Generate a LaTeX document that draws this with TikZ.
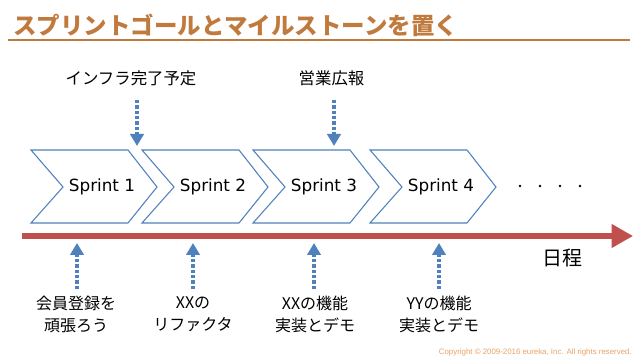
\documentclass[tikz,border=0pt]{standalone}
\usepackage{fontspec}
\setmainfont{Noto Sans CJK JP}
\newfontfamily\jpfont{Noto Sans CJK JP}
\newfontfamily\latfont{DejaVu Sans}
\newfontfamily\copyfont{Liberation Sans}
\usetikzlibrary{arrows.meta}
\definecolor{titlec}{RGB}{192,122,62}
\definecolor{chevc}{RGB}{79,129,189}
\definecolor{timec}{RGB}{192,80,77}
\definecolor{copyc}{RGB}{232,162,100}
\tikzset{
  chevron/.style={draw=chevc, line width=0.8pt, fill=white, line join=miter},
  sprinttext/.style={font=\latfont\fontsize{12.6pt}{14pt}\selectfont, inner sep=0pt},
  toplabel/.style={font=\jpfont\fontsize{12.3pt}{14pt}\selectfont, inner sep=0pt},
  botlabel/.style={font=\jpfont\fontsize{12pt}{16.5pt}\selectfont, align=center, inner sep=0pt},
  milestone/.style={chevc, line width=2.3pt, dash pattern=on 2.4pt off 1.6pt,
    -{Triangle[width=10pt,length=9pt,fill=chevc]}},
}
\begin{document}
\begin{tikzpicture}[x=0.75pt,y=-0.75pt]
\useasboundingbox (0,0) rectangle (638,359);
% title
\node[anchor=west, inner sep=0pt, text=titlec, font=\jpfont\bfseries\fontsize{17.6pt}{20pt}\selectfont] (title) at (13,25) {スプリントゴールとマイルストーンを置く};
\coordinate (ul1) at (8,40);
\coordinate (ul2) at (630,40);
\draw[titlec, line width=2.2pt] (ul1) -- (ul2);
% chevrons
\foreach \x/\n in {31/1,142/2,253/3,370/4}{
  \draw[chevron] (\x,150) -- (\x+97,150) -- (\x+126,187) -- (\x+97,223) -- (\x,223) -- (\x+32,187) -- cycle;
  \node[sprinttext] (s\n) at (\x+71,187) {Sprint \n};
}
% dots
\foreach \x [count=\i] in {520,540,560,580}{
  \fill (\x,186) circle (1.4) coordinate (d\i);
}
% timeline
\coordinate (tl1) at (22,236);
\coordinate (tl2) at (633,236);
\draw[timec, line width=3.8pt, -{Triangle[width=17pt,length=16pt]}] (tl1) -- (tl2);
\node[font=\jpfont\fontsize{15pt}{17pt}\selectfont, inner sep=0pt] (sched) at (562,258) {日程};
% top milestones
\node[toplabel] (t1) at (131,78) {インフラ完了予定};
\node[toplabel] (t2) at (331.5,78) {営業広報};
\coordinate (t1s) at (137,100);
\coordinate (t1e) at (137,146);
\coordinate (t2s) at (334,100);
\coordinate (t2e) at (334,146);
\draw[milestone] (t1s) -- (t1e);
\draw[milestone] (t2s) -- (t2e);
% bottom goals
\node[botlabel] (b1) at (76,314) {会員登録を\\頑張ろう};
\node[botlabel] (b2) at (193,314) {XXの\\リファクタ};
\node[botlabel] (b3) at (315,314) {XXの機能\\実装とデモ};
\node[botlabel] (b4) at (439,314) {YYの機能\\実装とデモ};
\foreach \x [count=\i] in {77,193,314,439}{
  \coordinate (g\i s) at (\x,289);
  \coordinate (g\i e) at (\x,243);
  \draw[milestone] (g\i s) -- (g\i e);
}
% copyright
\node[anchor=east, inner sep=0pt, text=copyc, font=\copyfont\fontsize{5.9pt}{7pt}\selectfont] (copy) at (632,352) {Copyright © 2009-2016 eureka, Inc. All rights reserved.};
\end{tikzpicture}
\end{document}
